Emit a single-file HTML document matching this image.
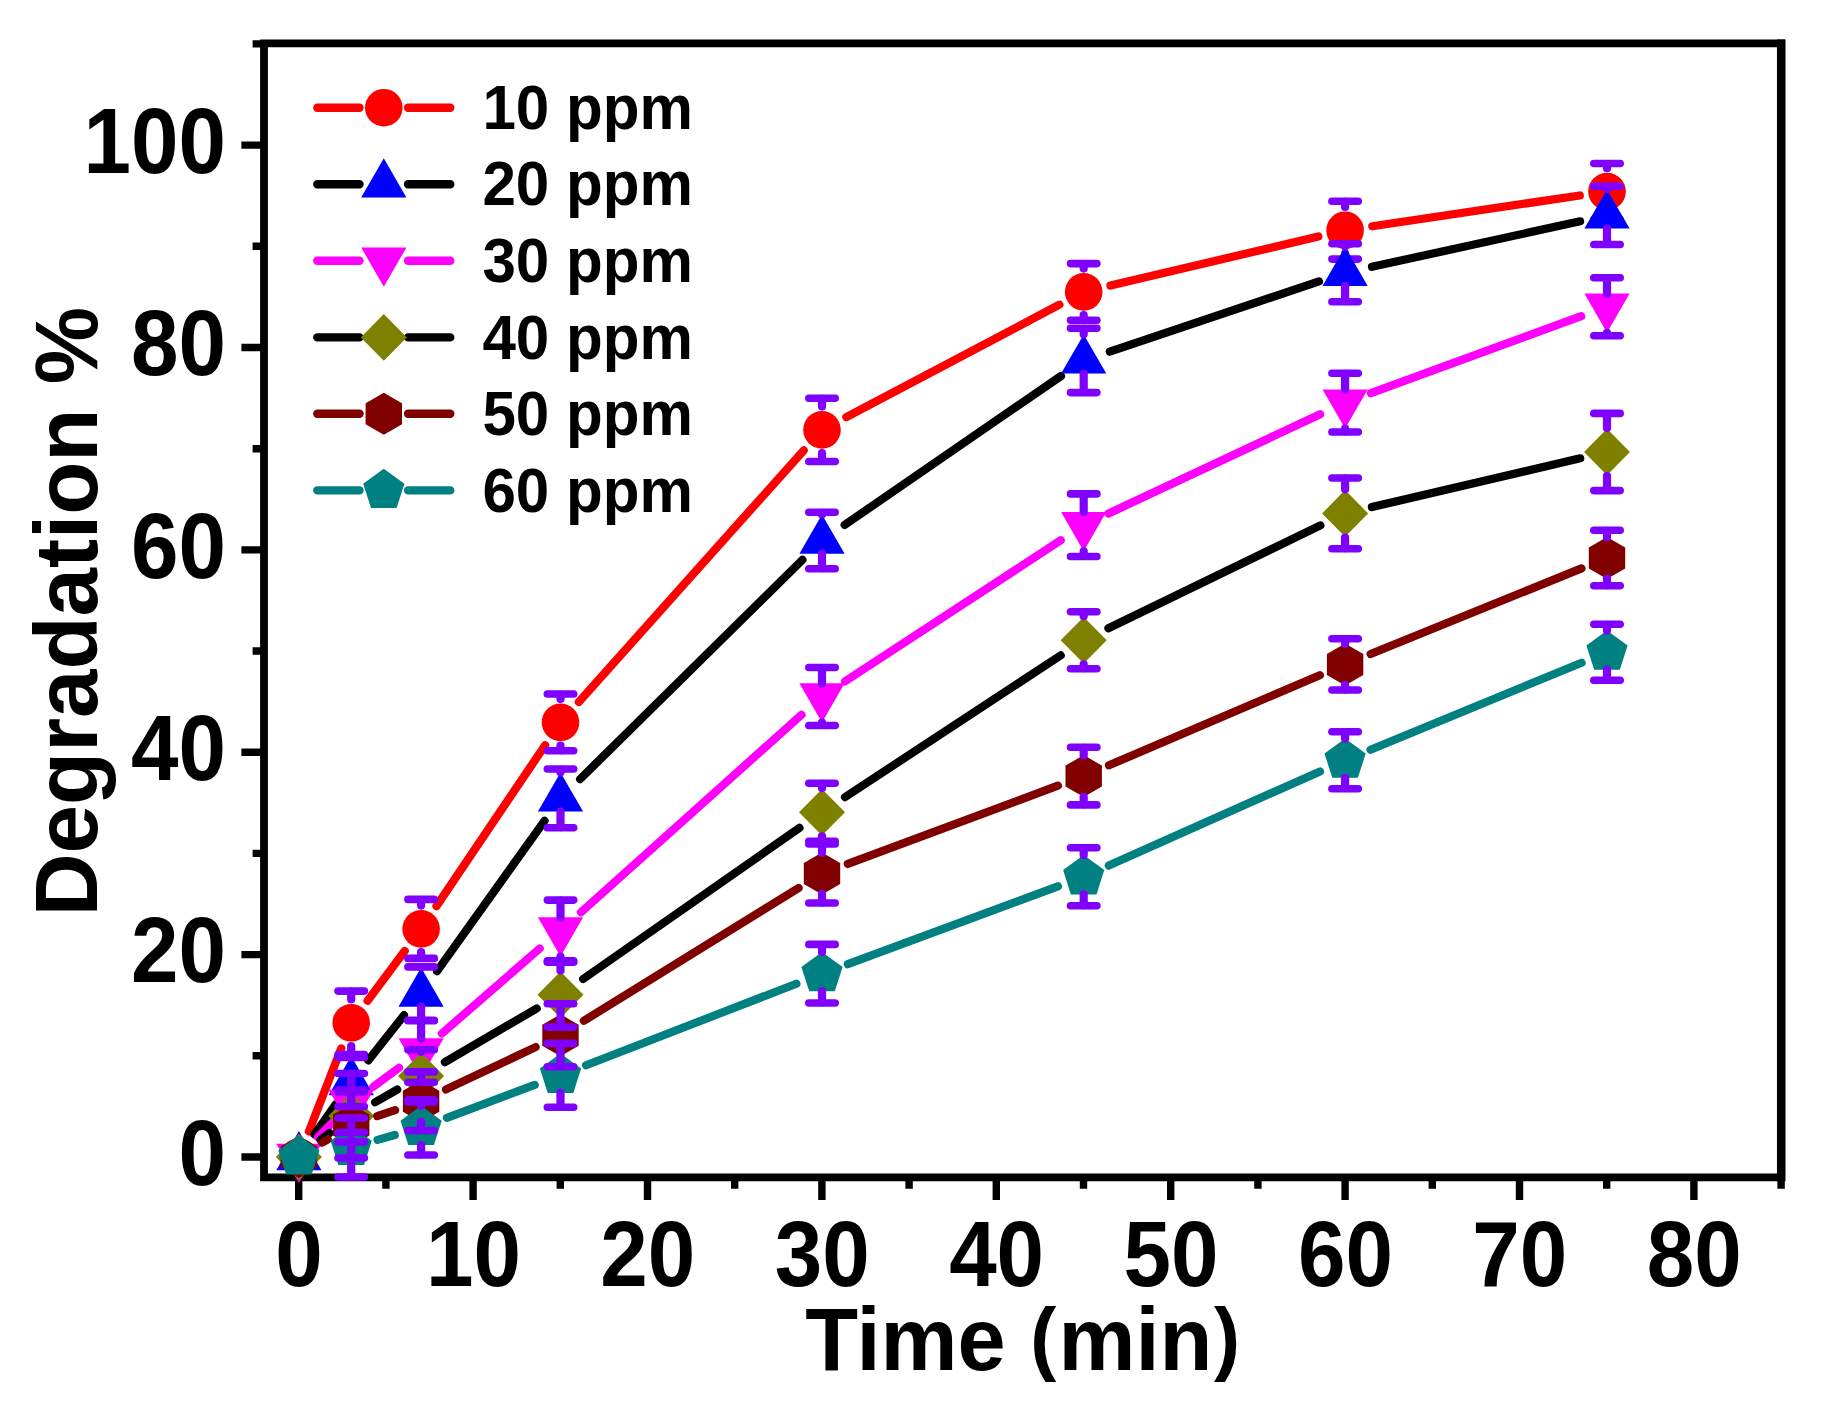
<!DOCTYPE html>
<html lang="en">
<head>
<meta charset="utf-8">
<title>Degradation % vs Time (min)</title>
<style>
html,body{margin:0;padding:0;background:#fff;}
body{width:1826px;height:1408px;overflow:hidden;}
svg{display:block;}
</style>
</head>
<body>
<svg width="1826" height="1408" viewBox="0 0 1826 1408">
<rect width="1826" height="1408" fill="#ffffff"/>
<path d="M264 39.5V1181.2M1781.2 39.5V1181.2M260.1 43.4H1785.1M260.1 1177.3H1785.1" stroke="#000" stroke-width="7.8" fill="none"/>
<path d="M1781.2 39.5V1181.2" stroke="#000" stroke-width="8.5" fill="none"/>
<path d="M298.7 1177.3v22.6M473.1 1177.3v22.6M647.5 1177.3v22.6M821.9 1177.3v22.6M996.3 1177.3v22.6M1170.7 1177.3v22.6M1345.1 1177.3v22.6M1519.5 1177.3v22.6M1693.9 1177.3v22.6M385.9 1177.3v11.4M560.3 1177.3v11.4M734.7 1177.3v11.4M909.1 1177.3v11.4M1083.5 1177.3v11.4M1257.9 1177.3v11.4M1432.3 1177.3v11.4M1606.7 1177.3v11.4M1781.1 1177.3v11.4M264 1157h-22.6M264 954.6h-22.6M264 752.2h-22.6M264 549.9h-22.6M264 347.5h-22.6M264 145.1h-22.6M264 1055.8h-11.4M264 853.4h-11.4M264 651h-11.4M264 448.7h-11.4M264 246.3h-11.4M264 43.9h-11.4" stroke="#000" stroke-width="7.4" fill="none"/>
<g id="plots">
<path d="M308.9 1131.4L341.2 1048.4M367.6 1000.7L404.7 951M436.5 906.1L545.1 745.2M578.8 701.9L803.7 450.4M846.3 417.1L1059.4 304.7M1110.5 285.6L1318.3 236.5M1372.3 226.2L1579.8 195.5" stroke="#ff0000" stroke-width="8.2" stroke-linecap="round" fill="none"/>
<circle cx="298.9" cy="1157" r="18.8" fill="#ff0000"/><circle cx="351.2" cy="1022.8" r="18.8" fill="#ff0000"/><circle cx="421.1" cy="928.9" r="18.8" fill="#ff0000"/><circle cx="560.5" cy="722.4" r="18.8" fill="#ff0000"/><circle cx="822" cy="429.9" r="18.8" fill="#ff0000"/><circle cx="1083.7" cy="291.9" r="18.8" fill="#ff0000"/><circle cx="1345.1" cy="230.2" r="18.8" fill="#ff0000"/><circle cx="1607" cy="191.5" r="18.8" fill="#ff0000"/>
<path d="M338 991.1H364.4M338 1054.5H364.4M407.9 899.4H434.3M407.9 958.4H434.3M547.3 694H573.7M547.3 750.8H573.7M808.8 398.3H835.2M808.8 461.5H835.2M1070.5 263.6H1096.9M1070.5 320.2H1096.9M1331.9 201.3H1358.3M1331.9 259.1H1358.3M1593.8 163.5H1620.2M1593.8 219.5H1620.2" stroke="#8000ff" stroke-width="7.6" stroke-linecap="round" fill="none"/><path d="M351.2 991.7V999.5M351.2 1053.9V1046.1M421.1 900V905.6M421.1 957.8V952.2M560.5 694.6V699.1M560.5 750.2V745.7M822 398.9V406.6M822 460.9V453.2M1083.7 264.2V268.6M1083.7 319.6V315.2M1345.1 201.9V206.9M1345.1 258.5V253.5M1607 164.1V168.2M1607 218.9V214.8" stroke="#8000ff" stroke-width="8.2" stroke-linecap="round" fill="none"/>
<path d="M314.6 1134.4L335.5 1104.6M368.3 1060.4L404 1015.2M437.1 971.2L544.5 820.8M580.1 779.1L802.4 559.8M844.7 524.9L1061 376M1109.8 351.7L1319 281.4M1372 266.8L1580.1 221.3" stroke="#000000" stroke-width="8.2" stroke-linecap="round" fill="none"/>
<polygon points="298.9,1131 321.5,1170.2 276.3,1170.2" fill="#0000ff"/><polygon points="351.2,1056 373.8,1095.2 328.6,1095.2" fill="#0000ff"/><polygon points="421.1,967.6 443.7,1006.8 398.5,1006.8" fill="#0000ff"/><polygon points="560.5,772.4 583.1,811.6 537.9,811.6" fill="#0000ff"/><polygon points="822,514.5 844.6,553.7 799.4,553.7" fill="#0000ff"/><polygon points="1083.7,334.4 1106.3,373.6 1061.1,373.6" fill="#0000ff"/><polygon points="1345.1,246.7 1367.7,285.9 1322.5,285.9" fill="#0000ff"/><polygon points="1607,189.4 1629.6,228.6 1584.4,228.6" fill="#0000ff"/>
<path d="M318 1137.2L332.1 1122.8M373.3 1086.7L399 1067.8M441.9 1033.5L539.7 948.5M581 912.2L801.5 714.8M845 681.4L1060.7 540.3M1108.6 513.5L1320.2 414.3M1370.9 393.2L1581.2 316.2" stroke="#ff00ff" stroke-width="8.2" stroke-linecap="round" fill="none"/>
<polygon points="298.9,1183 321.5,1143.8 276.3,1143.8" fill="#ff00ff"/><polygon points="351.2,1129 373.8,1089.8 328.6,1089.8" fill="#ff00ff"/><polygon points="421.1,1077.5 443.7,1038.3 398.5,1038.3" fill="#ff00ff"/><polygon points="560.5,956.5 583.1,917.3 537.9,917.3" fill="#ff00ff"/><polygon points="822,722.5 844.6,683.3 799.4,683.3" fill="#ff00ff"/><polygon points="1083.7,551.2 1106.3,512 1061.1,512" fill="#ff00ff"/><polygon points="1345.1,428.6 1367.7,389.4 1322.5,389.4" fill="#ff00ff"/><polygon points="1607,332.8 1629.6,293.6 1584.4,293.6" fill="#ff00ff"/>
<path d="M320.5 1140L329.6 1133M375.1 1102.3L397.2 1089.6M444.9 1062.1L536.7 1008.5M583.1 979L799.4 827.9M845 797.1L1060.7 655.4M1108.4 628.3L1320.4 525.4M1371.9 507.1L1580.2 458.3" stroke="#000000" stroke-width="8.2" stroke-linecap="round" fill="none"/>
<polygon points="298.9,1133.7 321.9,1157 298.9,1180.3 275.9,1157" fill="#808000"/><polygon points="351.2,1092.7 374.2,1116 351.2,1139.3 328.2,1116" fill="#808000"/><polygon points="421.1,1052.6 444.1,1075.9 421.1,1099.2 398.1,1075.9" fill="#808000"/><polygon points="560.5,971.4 583.5,994.7 560.5,1018 537.5,994.7" fill="#808000"/><polygon points="822,788.9 845,812.2 822,835.5 799,812.2" fill="#808000"/><polygon points="1083.7,617 1106.7,640.3 1083.7,663.6 1060.7,640.3" fill="#808000"/><polygon points="1345.1,490.1 1368.1,513.4 1345.1,536.7 1322.1,513.4" fill="#808000"/><polygon points="1607,428.7 1630,452 1607,475.3 1584,452" fill="#808000"/>
<path d="M322.4 1142.6L327.7 1139.4M377.2 1116.1L395.1 1110.1M446 1089.4L535.6 1047.1M583.9 1020.8L798.6 888M847.8 863.9L1057.9 785.7M1109 765.3L1319.8 675.2M1370.6 654L1581.5 568.4" stroke="#800000" stroke-width="8.2" stroke-linecap="round" fill="none"/>
<polygon points="298.9,1136 317.1,1146.5 317.1,1167.5 298.9,1178 280.7,1167.5 280.7,1146.5" fill="#800000"/><polygon points="351.2,1104 369.4,1114.5 369.4,1135.5 351.2,1146 333,1135.5 333,1114.5" fill="#800000"/><polygon points="421.1,1080.2 439.3,1090.7 439.3,1111.7 421.1,1122.2 402.9,1111.7 402.9,1090.7" fill="#800000"/><polygon points="560.5,1014.3 578.7,1024.8 578.7,1045.8 560.5,1056.3 542.3,1045.8 542.3,1024.8" fill="#800000"/><polygon points="822,852.5 840.2,863 840.2,884 822,894.5 803.8,884 803.8,863" fill="#800000"/><polygon points="1083.7,755.1 1101.9,765.6 1101.9,786.6 1083.7,797.1 1065.5,786.6 1065.5,765.6" fill="#800000"/><polygon points="1345.1,643.4 1363.3,653.9 1363.3,674.9 1345.1,685.4 1326.9,674.9 1326.9,653.9" fill="#800000"/><polygon points="1607,537 1625.2,547.5 1625.2,568.5 1607,579 1588.8,568.5 1588.8,547.5" fill="#800000"/>
<path d="M377.6 1139.9L394.7 1135M446.9 1117.8L534.7 1084.9M586.1 1065.3L796.4 983.7M847.8 964.2L1057.9 886.3M1108.8 865.6L1320 771.4M1370.5 749.7L1581.6 662.7" stroke="#008080" stroke-width="8.2" stroke-linecap="round" fill="none"/>
<polygon points="298.9,1135.3 319.5,1150.3 311.7,1174.6 286.1,1174.6 278.3,1150.3" fill="#008080"/><polygon points="351.2,1125.8 371.8,1140.8 364,1165.1 338.4,1165.1 330.6,1140.8" fill="#008080"/><polygon points="421.1,1105.7 441.7,1120.7 433.9,1145 408.3,1145 400.5,1120.7" fill="#008080"/><polygon points="560.5,1053.6 581.1,1068.6 573.3,1092.9 547.7,1092.9 539.9,1068.6" fill="#008080"/><polygon points="822,952 842.6,967 834.8,991.3 809.2,991.3 801.4,967" fill="#008080"/><polygon points="1083.7,855.1 1104.3,870.1 1096.5,894.4 1070.9,894.4 1063.1,870.1" fill="#008080"/><polygon points="1345.1,738.5 1365.7,753.5 1357.9,777.8 1332.3,777.8 1324.5,753.5" fill="#008080"/><polygon points="1607,630.5 1627.6,645.5 1619.8,669.8 1594.2,669.8 1586.4,645.5" fill="#008080"/>
<path d="M338 1057.5H364.4M338 1106.5H364.4M407.9 966.9H434.3M407.9 1020.3H434.3M547.3 769H573.7M547.3 827.8H573.7M808.8 512.2H835.2M808.8 568.8H835.2M1070.5 328.2H1096.9M1070.5 392.6H1096.9M1331.9 243.7H1358.3M1331.9 301.7H1358.3M1593.8 186.3H1620.2M1593.8 244.5H1620.2" stroke="#8000ff" stroke-width="7.6" stroke-linecap="round" fill="none"/><path d="M351.2 1105.9V1095.1M421.1 967.5V967.5M421.1 1019.7V1006.7M560.5 769.6V772.3M560.5 827.2V811.5M822 512.8V514.4M822 568.2V553.6M1083.7 328.8V334.3M1083.7 392V373.5M1345.1 244.3V246.6M1345.1 301.1V285.8M1607 186.9V189.3M1607 243.9V228.5" stroke="#8000ff" stroke-width="8.2" stroke-linecap="round" fill="none"/>
<path d="M338 1073.5H364.4M338 1132.5H364.4M407.9 1020.8H434.3M407.9 1082.2H434.3M547.3 900.1H573.7M547.3 960.9H573.7M808.8 667.5H835.2M808.8 725.5H835.2M1070.5 493.9H1096.9M1070.5 556.5H1096.9M1331.9 373.2H1358.3M1331.9 432H1358.3M1593.8 277.8H1620.2M1593.8 335.8H1620.2" stroke="#8000ff" stroke-width="7.6" stroke-linecap="round" fill="none"/><path d="M351.2 1074.1V1089.9M351.2 1131.9V1129.1M421.1 1021.4V1038.4M421.1 1081.6V1077.6M560.5 900.7V917.4M560.5 960.3V956.6M822 668.1V683.4M822 724.9V722.6M1083.7 494.5V512.1M1083.7 555.9V551.3M1345.1 373.8V389.5M1345.1 431.4V428.7M1607 278.4V293.7M1607 335.2V332.9" stroke="#8000ff" stroke-width="8.2" stroke-linecap="round" fill="none"/>
<path d="M338 1090H364.4M338 1142H364.4M407.9 1049.8H434.3M407.9 1102H434.3M547.3 962.3H573.7M547.3 1027.1H573.7M808.8 783.2H835.2M808.8 841.2H835.2M1070.5 611.8H1096.9M1070.5 668.8H1096.9M1331.9 478H1358.3M1331.9 548.8H1358.3M1593.8 413.4H1620.2M1593.8 490.6H1620.2" stroke="#8000ff" stroke-width="7.6" stroke-linecap="round" fill="none"/><path d="M351.2 1090.6V1091.9M351.2 1141.4V1140.1M421.1 1050.4V1051.8M421.1 1101.4V1100M560.5 962.9V970.6M560.5 1026.5V1018.8M822 783.8V788.1M822 840.6V836.3M1083.7 612.4V616.2M1083.7 668.2V664.4M1345.1 478.6V489.3M1345.1 548.2V537.5M1607 414V427.9M1607 490V476.1" stroke="#8000ff" stroke-width="8.2" stroke-linecap="round" fill="none"/>
<path d="M338 1092H364.4M338 1158H364.4M407.9 1071.9H434.3M407.9 1130.5H434.3M547.3 1003.8H573.7M547.3 1066.8H573.7M808.8 844H835.2M808.8 903H835.2M1070.5 747.3H1096.9M1070.5 804.9H1096.9M1331.9 638.8H1358.3M1331.9 690H1358.3M1593.8 530.2H1620.2M1593.8 585.8H1620.2" stroke="#8000ff" stroke-width="7.6" stroke-linecap="round" fill="none"/><path d="M351.2 1092.6V1104.3M351.2 1157.4V1145.7M421.1 1072.5V1080.5M421.1 1129.9V1121.9M560.5 1004.4V1014.6M560.5 1066.2V1056M822 844.6V852.8M822 902.4V894.2M1083.7 747.9V755.4M1083.7 804.3V796.8M1345.1 639.4V643.7M1345.1 689.4V685.1M1607 530.8V537.3M1607 585.2V578.7" stroke="#8000ff" stroke-width="8.2" stroke-linecap="round" fill="none"/>
<path d="M338 1118H364.4M338 1177H364.4M407.9 1099.8H434.3M407.9 1155H434.3M547.3 1043.4H573.7M547.3 1107.2H573.7M808.8 944.4H835.2M808.8 1003H835.2M1070.5 847.8H1096.9M1070.5 905.8H1096.9M1331.9 731.7H1358.3M1331.9 788.7H1358.3M1593.8 624.2H1620.2M1593.8 680.2H1620.2" stroke="#8000ff" stroke-width="7.6" stroke-linecap="round" fill="none"/><path d="M351.2 1118.6V1125.9M351.2 1176.4V1165.1M421.1 1100.4V1105.8M421.1 1154.4V1145M560.5 1044V1053.7M560.5 1106.6V1092.9M822 945V952.1M822 1002.4V991.3M1083.7 848.4V855.2M1083.7 905.2V894.4M1345.1 732.3V738.6M1345.1 788.1V777.8M1607 624.8V630.6M1607 679.6V669.8" stroke="#8000ff" stroke-width="8.2" stroke-linecap="round" fill="none"/>
</g>
<text font-family="Liberation Sans, Arial, Helvetica, sans-serif" font-weight="bold" fill="#000" font-size="92" text-anchor="middle" transform="translate(299 1285.6) scale(0.928 1)">0</text>
<text font-family="Liberation Sans, Arial, Helvetica, sans-serif" font-weight="bold" fill="#000" font-size="92" text-anchor="middle" transform="translate(473.4 1285.6) scale(0.928 1)">10</text>
<text font-family="Liberation Sans, Arial, Helvetica, sans-serif" font-weight="bold" fill="#000" font-size="92" text-anchor="middle" transform="translate(647.8 1285.6) scale(0.928 1)">20</text>
<text font-family="Liberation Sans, Arial, Helvetica, sans-serif" font-weight="bold" fill="#000" font-size="92" text-anchor="middle" transform="translate(822.2 1285.6) scale(0.928 1)">30</text>
<text font-family="Liberation Sans, Arial, Helvetica, sans-serif" font-weight="bold" fill="#000" font-size="92" text-anchor="middle" transform="translate(996.6 1285.6) scale(0.928 1)">40</text>
<text font-family="Liberation Sans, Arial, Helvetica, sans-serif" font-weight="bold" fill="#000" font-size="92" text-anchor="middle" transform="translate(1171 1285.6) scale(0.928 1)">50</text>
<text font-family="Liberation Sans, Arial, Helvetica, sans-serif" font-weight="bold" fill="#000" font-size="92" text-anchor="middle" transform="translate(1345.4 1285.6) scale(0.928 1)">60</text>
<text font-family="Liberation Sans, Arial, Helvetica, sans-serif" font-weight="bold" fill="#000" font-size="92" text-anchor="middle" transform="translate(1519.8 1285.6) scale(0.928 1)">70</text>
<text font-family="Liberation Sans, Arial, Helvetica, sans-serif" font-weight="bold" fill="#000" font-size="92" text-anchor="middle" transform="translate(1694.2 1285.6) scale(0.928 1)">80</text>
<text font-family="Liberation Sans, Arial, Helvetica, sans-serif" font-weight="bold" fill="#000" font-size="92" text-anchor="end" transform="translate(226 1184.8) scale(0.928 1)">0</text>
<text font-family="Liberation Sans, Arial, Helvetica, sans-serif" font-weight="bold" fill="#000" font-size="92" text-anchor="end" transform="translate(226 982.4) scale(0.928 1)">20</text>
<text font-family="Liberation Sans, Arial, Helvetica, sans-serif" font-weight="bold" fill="#000" font-size="92" text-anchor="end" transform="translate(226 780) scale(0.928 1)">40</text>
<text font-family="Liberation Sans, Arial, Helvetica, sans-serif" font-weight="bold" fill="#000" font-size="92" text-anchor="end" transform="translate(226 577.7) scale(0.928 1)">60</text>
<text font-family="Liberation Sans, Arial, Helvetica, sans-serif" font-weight="bold" fill="#000" font-size="92" text-anchor="end" transform="translate(226 375.3) scale(0.928 1)">80</text>
<text font-family="Liberation Sans, Arial, Helvetica, sans-serif" font-weight="bold" fill="#000" font-size="92" text-anchor="end" transform="translate(226 172.9) scale(0.928 1)">100</text>
<text font-family="Liberation Sans, Arial, Helvetica, sans-serif" font-weight="bold" fill="#000" font-size="89.5" text-anchor="middle" transform="translate(1022.7 1369.6) scale(0.9667 1)">Time <tspan font-size="81" dy="-4.6" dx="0.5">(</tspan><tspan dy="4.6" dx="2.3">min</tspan><tspan font-size="81" dy="-4.6" dx="1.8">)</tspan></text>
<text font-family="Liberation Sans, Arial, Helvetica, sans-serif" font-weight="bold" fill="#000" font-size="89.5" text-anchor="middle" transform="translate(96.6 611.6) rotate(-90) scale(0.9727 1)">Degradation %</text>
<g id="legend">
<path d="M317.3 107.7H359.5M408 107.7H450.3" stroke="#ff0000" stroke-width="8.4" stroke-linecap="round" fill="none"/>
<circle cx="383.8" cy="107.7" r="18.8" fill="#ff0000"/>
<text font-family="Liberation Sans, Arial, Helvetica, sans-serif" font-weight="bold" fill="#000" font-size="62.5" text-anchor="start" transform="translate(482.4 128.8) scale(0.962 1)">10 ppm</text>
<path d="M317.3 184.3H359.5M408 184.3H450.3" stroke="#000000" stroke-width="8.4" stroke-linecap="round" fill="none"/>
<polygon points="383.8,158.3 406.4,197.5 361.2,197.5" fill="#0000ff"/>
<text font-family="Liberation Sans, Arial, Helvetica, sans-serif" font-weight="bold" fill="#000" font-size="62.5" text-anchor="start" transform="translate(482.4 205.4) scale(0.962 1)">20 ppm</text>
<path d="M317.3 260.7H359.5M408 260.7H450.3" stroke="#ff00ff" stroke-width="8.4" stroke-linecap="round" fill="none"/>
<polygon points="383.8,286.7 406.4,247.5 361.2,247.5" fill="#ff00ff"/>
<text font-family="Liberation Sans, Arial, Helvetica, sans-serif" font-weight="bold" fill="#000" font-size="62.5" text-anchor="start" transform="translate(482.4 281.8) scale(0.962 1)">30 ppm</text>
<path d="M317.3 337.4H359.5M408 337.4H450.3" stroke="#000000" stroke-width="8.4" stroke-linecap="round" fill="none"/>
<polygon points="383.8,314.1 406.8,337.4 383.8,360.7 360.8,337.4" fill="#808000"/>
<text font-family="Liberation Sans, Arial, Helvetica, sans-serif" font-weight="bold" fill="#000" font-size="62.5" text-anchor="start" transform="translate(482.4 358.5) scale(0.962 1)">40 ppm</text>
<path d="M317.3 413.8H359.5M408 413.8H450.3" stroke="#800000" stroke-width="8.4" stroke-linecap="round" fill="none"/>
<polygon points="383.8,392.8 402,403.3 402,424.3 383.8,434.8 365.6,424.3 365.6,403.3" fill="#800000"/>
<text font-family="Liberation Sans, Arial, Helvetica, sans-serif" font-weight="bold" fill="#000" font-size="62.5" text-anchor="start" transform="translate(482.4 434.9) scale(0.962 1)">50 ppm</text>
<path d="M317.3 490.4H359.5M408 490.4H450.3" stroke="#008080" stroke-width="8.4" stroke-linecap="round" fill="none"/>
<polygon points="383.8,468.7 404.4,483.7 396.6,508 371,508 363.2,483.7" fill="#008080"/>
<text font-family="Liberation Sans, Arial, Helvetica, sans-serif" font-weight="bold" fill="#000" font-size="62.5" text-anchor="start" transform="translate(482.4 511.5) scale(0.962 1)">60 ppm</text>
</g>
</svg>
</body>
</html>
